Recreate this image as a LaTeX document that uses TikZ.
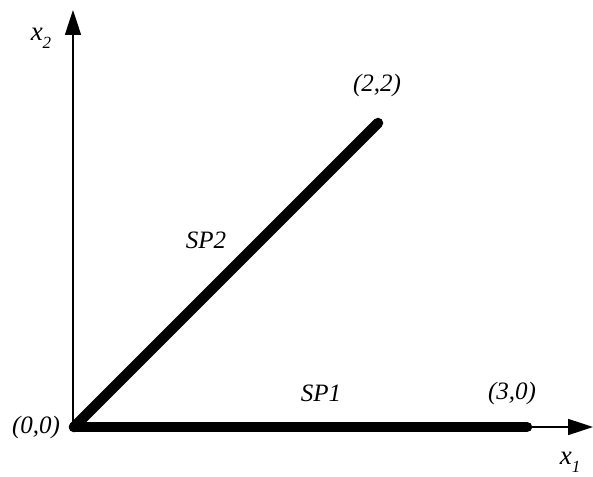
\documentclass[tikz,border=0pt]{standalone}
\usepackage{fontspec}
\setmainfont{Liberation Serif}
\usetikzlibrary{arrows.meta}
\begin{document}
\begin{tikzpicture}[x=1pt,y=1pt,
  axis/.style={line width=1.6pt,-{Triangle[length=25pt,width=16pt]}},
  seg/.style={line width=10.5pt,line cap=round},
  lbl/.style={font=\fontsize{25}{28}\selectfont\itshape,inner sep=0pt},
  xlbl/.style={font=\fontsize{27}{30}\selectfont\itshape,inner sep=0pt}]
\useasboundingbox (0,0) rectangle (593,476);
\coordinate (O) at (74,49);
\coordinate (Y) at (73,466);
\coordinate (X) at (593,49);
\coordinate (A) at (378,353);
\coordinate (B) at (527,49);
\draw[axis] (73,49) -- (Y);
\draw[axis] (73,49) -- (X);
\draw[seg] (O) -- (A);
\draw[seg] (O) -- (B);
\node[xlbl] (x2) at (41,438) {x\raisebox{-0.3em}{\fontsize{17}{19}\selectfont 2}};
\node[xlbl] (x1) at (570,14) {x\raisebox{-0.3em}{\fontsize{17}{19}\selectfont 1}};
\node[lbl] (o) at (36,49) {(0,0)};
\node[lbl] (a) at (377,391) {(2,2)};
\node[lbl] (b) at (512,83) {(3,0)};
\node[lbl] (sp2) at (206,236) {SP2};
\node[lbl] (sp1) at (321,83) {SP1};
\end{tikzpicture}
\end{document}
